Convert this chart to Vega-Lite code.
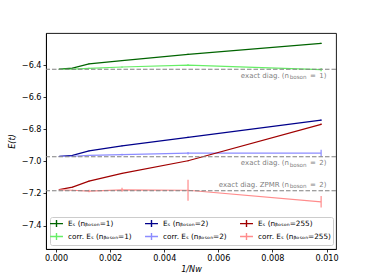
{
  "$schema": "https://vega.github.io/schema/vega-lite/v6.json",
  "width": 290,
  "height": 216,
  "autosize": {"type": "none"},
  "padding": {"left": 46, "top": 33, "right": 38, "bottom": 31},
  "background": "white",
  "datasets": {
    "series": [
      {"x": 0.000122, "E": -6.425, "err": 0.002, "s": "Eₛ (nᵦₒₛₒₙ=1)"},
      {"x": 0.00061, "E": -6.419, "err": 0.002, "s": "Eₛ (nᵦₒₛₒₙ=1)"},
      {"x": 0.00122, "E": -6.392, "err": 0.002, "s": "Eₛ (nᵦₒₛₒₙ=1)"},
      {"x": 0.00244, "E": -6.372, "err": 0.002, "s": "Eₛ (nᵦₒₛₒₙ=1)"},
      {"x": 0.00488, "E": -6.333, "err": 0.003, "s": "Eₛ (nᵦₒₛₒₙ=1)"},
      {"x": 0.0098, "E": -6.265, "err": 0.004, "s": "Eₛ (nᵦₒₛₒₙ=1)"},
      {"x": 0.000122, "E": -6.426, "err": 0.002, "s": "corr. Eₛ (nᵦₒₛₒₙ=1)"},
      {"x": 0.00061, "E": -6.425, "err": 0.002, "s": "corr. Eₛ (nᵦₒₛₒₙ=1)"},
      {"x": 0.00122, "E": -6.42, "err": 0.003, "s": "corr. Eₛ (nᵦₒₛₒₙ=1)"},
      {"x": 0.00244, "E": -6.412, "err": 0.004, "s": "corr. Eₛ (nᵦₒₛₒₙ=1)"},
      {"x": 0.00488, "E": -6.40, "err": 0.006, "s": "corr. Eₛ (nᵦₒₛₒₙ=1)"},
      {"x": 0.0098, "E": -6.428, "err": 0.01, "s": "corr. Eₛ (nᵦₒₛₒₙ=1)"},
      {"x": 0.000122, "E": -6.968, "err": 0.002, "s": "Eₛ (nᵦₒₛₒₙ=2)"},
      {"x": 0.00061, "E": -6.962, "err": 0.002, "s": "Eₛ (nᵦₒₛₒₙ=2)"},
      {"x": 0.00122, "E": -6.935, "err": 0.002, "s": "Eₛ (nᵦₒₛₒₙ=2)"},
      {"x": 0.00244, "E": -6.903, "err": 0.002, "s": "Eₛ (nᵦₒₛₒₙ=2)"},
      {"x": 0.00488, "E": -6.85, "err": 0.003, "s": "Eₛ (nᵦₒₛₒₙ=2)"},
      {"x": 0.0098, "E": -6.743, "err": 0.004, "s": "Eₛ (nᵦₒₛₒₙ=2)"},
      {"x": 0.000122, "E": -6.969, "err": 0.002, "s": "corr. Eₛ (nᵦₒₛₒₙ=2)"},
      {"x": 0.00061, "E": -6.968, "err": 0.002, "s": "corr. Eₛ (nᵦₒₛₒₙ=2)"},
      {"x": 0.00122, "E": -6.963, "err": 0.003, "s": "corr. Eₛ (nᵦₒₛₒₙ=2)"},
      {"x": 0.00244, "E": -6.958, "err": 0.005, "s": "corr. Eₛ (nᵦₒₛₒₙ=2)"},
      {"x": 0.00488, "E": -6.949, "err": 0.008, "s": "corr. Eₛ (nᵦₒₛₒₙ=2)"},
      {"x": 0.0098, "E": -6.948, "err": 0.021, "s": "corr. Eₛ (nᵦₒₛₒₙ=2)"},
      {"x": 0.000122, "E": -7.176, "err": 0.002, "s": "Eₛ (nᵦₒₛₒₙ=255)"},
      {"x": 0.00061, "E": -7.16, "err": 0.002, "s": "Eₛ (nᵦₒₛₒₙ=255)"},
      {"x": 0.00122, "E": -7.123, "err": 0.002, "s": "Eₛ (nᵦₒₛₒₙ=255)"},
      {"x": 0.00244, "E": -7.075, "err": 0.002, "s": "Eₛ (nᵦₒₛₒₙ=255)"},
      {"x": 0.00488, "E": -6.996, "err": 0.003, "s": "Eₛ (nᵦₒₛₒₙ=255)"},
      {"x": 0.0098, "E": -6.769, "err": 0.005, "s": "Eₛ (nᵦₒₛₒₙ=255)"},
      {"x": 0.000122, "E": -7.178, "err": 0.002, "s": "corr. Eₛ (nᵦₒₛₒₙ=255)"},
      {"x": 0.00061, "E": -7.18, "err": 0.004, "s": "corr. Eₛ (nᵦₒₛₒₙ=255)"},
      {"x": 0.00122, "E": -7.185, "err": 0.008, "s": "corr. Eₛ (nᵦₒₛₒₙ=255)"},
      {"x": 0.00244, "E": -7.177, "err": 0.013, "s": "corr. Eₛ (nᵦₒₛₒₙ=255)"},
      {"x": 0.00488, "E": -7.18, "err": 0.065, "s": "corr. Eₛ (nᵦₒₛₒₙ=255)"},
      {"x": 0.0098, "E": -7.252, "err": 0.036, "s": "corr. Eₛ (nᵦₒₛₒₙ=255)"}
    ],
    "exact": [
      {"E": -6.426, "main": "exact diag. (n", "sub": "boson", "tail": "\u2002=\u20021)"},
      {"E": -6.971, "main": "exact diag. (n", "sub": "boson", "tail": "\u2002=\u20022)"},
      {"E": -7.183, "main": "exact diag. ZPMR (n", "sub": "boson", "tail": "\u2002=\u20022)"}
    ]
  },
  "layer": [
    {
      "data": {"name": "series"},
      "mark": {"type": "line", "strokeWidth": 1.2, "clip": true},
      "encoding": {
        "x": {"field": "x", "type": "quantitative",
              "scale": {"domain": [-0.00037, 0.01035], "nice": false, "zero": false},
              "axis": {"values": [0, 0.002, 0.004, 0.006, 0.008, 0.01], "format": ".3f", "title": "1/Nᴡ", "titleFontStyle": "italic", "titlePadding": 3}},
        "y": {"field": "E", "type": "quantitative",
              "scale": {"domain": [-7.546, -6.2], "nice": false, "zero": false},
              "axis": {"values": [-7.4, -7.2, -7.0, -6.8, -6.6, -6.4], "format": ".1f", "title": "E(t)", "titleFontStyle": "italic", "titlePadding": 5}},
        "color": {"field": "s", "type": "nominal",
                  "scale": {"domain": ["Eₛ (nᵦₒₛₒₙ=1)", "corr. Eₛ (nᵦₒₛₒₙ=1)", "Eₛ (nᵦₒₛₒₙ=2)", "corr. Eₛ (nᵦₒₛₒₙ=2)", "Eₛ (nᵦₒₛₒₙ=255)", "corr. Eₛ (nᵦₒₛₒₙ=255)"],
                            "range": ["#006400", "#66ee66", "#00008b", "#8c8cff", "#a00000", "#ff8c8c"]},
                  "legend": {"title": null, "orient": "bottom-left", "offset": 4, "columns": 3, "gridAlign": "each", "columnPadding": 10, "rowPadding": 0,
                             "symbolType": "M-1.85,0H1.85M0,-1V1", "symbolSize": 49, "symbolStrokeWidth": 1.4,
                             "labelFont": "DejaVu Sans", "labelFontSize": 7.3, "labelColor": "black", "labelOffset": 7,
                             "padding": 2, "strokeColor": "#cccccc", "fillColor": "white", "cornerRadius": 2}},
        "order": {"field": "x", "type": "quantitative"}
      }
    },
    {
      "data": {"name": "series"},
      "mark": {"type": "errorbar", "ticks": false, "thickness": 1.2},
      "encoding": {
        "x": {"field": "x", "type": "quantitative"},
        "y": {"field": "E", "type": "quantitative", "title": "E(t)"},
        "yError": {"field": "err"},
        "color": {"field": "s", "type": "nominal", "legend": null}
      }
    },
    {
      "data": {"name": "exact"},
      "mark": {"type": "rule", "color": "#808080", "strokeWidth": 1.2, "strokeDash": [4.5, 2]},
      "encoding": {"y": {"field": "E", "type": "quantitative", "title": "E(t)"}}
    },
    {
      "data": {"name": "exact"},
      "transform": [{"filter": "datum.main == 'exact diag. (n'"}],
      "mark": {"type": "text", "align": "right", "baseline": "alphabetic", "dy": 8.5, "font": "DejaVu Sans", "fontSize": 7, "color": "#808080"},
      "encoding": {"x": {"datum": 0.01}, "y": {"field": "E", "type": "quantitative", "title": "E(t)"}, "text": {"field": "tail"}}
    },
    {
      "data": {"name": "exact"},
      "transform": [{"filter": "datum.main == 'exact diag. (n'"}],
      "mark": {"type": "text", "align": "right", "baseline": "alphabetic", "dy": 10, "dx": -20, "font": "DejaVu Sans", "fontSize": 5.6, "color": "#808080"},
      "encoding": {"x": {"datum": 0.01}, "y": {"field": "E", "type": "quantitative", "title": "E(t)"}, "text": {"field": "sub"}}
    },
    {
      "data": {"name": "exact"},
      "transform": [{"filter": "datum.main == 'exact diag. (n'"}],
      "mark": {"type": "text", "align": "right", "baseline": "alphabetic", "dy": 8.5, "dx": -37.5, "font": "DejaVu Sans", "fontSize": 7, "color": "#808080"},
      "encoding": {"x": {"datum": 0.01}, "y": {"field": "E", "type": "quantitative", "title": "E(t)"}, "text": {"field": "main"}}
    },
    {
      "data": {"name": "exact"},
      "transform": [{"filter": "datum.main != 'exact diag. (n'"}],
      "mark": {"type": "text", "align": "right", "baseline": "alphabetic", "dy": -4, "font": "DejaVu Sans", "fontSize": 7, "color": "#808080"},
      "encoding": {"x": {"datum": 0.01}, "y": {"field": "E", "type": "quantitative", "title": "E(t)"}, "text": {"field": "tail"}}
    },
    {
      "data": {"name": "exact"},
      "transform": [{"filter": "datum.main != 'exact diag. (n'"}],
      "mark": {"type": "text", "align": "right", "baseline": "alphabetic", "dy": -2.5, "dx": -20, "font": "DejaVu Sans", "fontSize": 5.6, "color": "#808080"},
      "encoding": {"x": {"datum": 0.01}, "y": {"field": "E", "type": "quantitative", "title": "E(t)"}, "text": {"field": "sub"}}
    },
    {
      "data": {"name": "exact"},
      "transform": [{"filter": "datum.main != 'exact diag. (n'"}],
      "mark": {"type": "text", "align": "right", "baseline": "alphabetic", "dy": -4, "dx": -37.5, "font": "DejaVu Sans", "fontSize": 7, "color": "#808080"},
      "encoding": {"x": {"datum": 0.01}, "y": {"field": "E", "type": "quantitative", "title": "E(t)"}, "text": {"field": "main"}}
    }
  ],
  "config": {
    "view": {"stroke": "black", "strokeWidth": 0.9},
    "axis": {"grid": false, "labelFont": "DejaVu Sans", "labelFontSize": 8.1, "labelColor": "black", "tickColor": "black", "tickSize": 3, "tickWidth": 0.8,
             "domainColor": "black", "domainWidth": 0.9, "labelPadding": 2,
             "titleFont": "DejaVu Sans", "titleFontSize": 8.1, "titleFontWeight": "normal", "titleColor": "black"}
  }
}
